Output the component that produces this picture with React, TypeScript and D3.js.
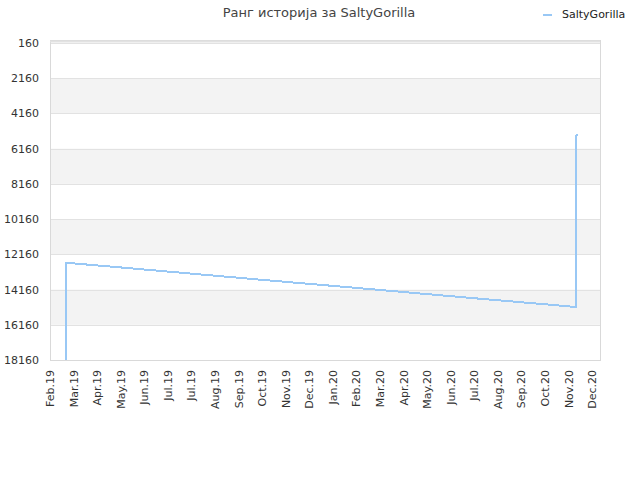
import React from "react";
import * as d3 from "d3";

const title = "Ранг историја за SaltyGorilla";
const seriesName = "SaltyGorilla";

const dates = [
  "2019-02-21", "2019-02-22", "2019-05-01", "2019-08-01", "2019-11-01",
  "2020-02-01", "2020-05-01", "2020-08-01", "2020-11-01", "2020-12-01",
  "2020-12-02", "2020-12-04",
];
const ranks = [
  18160, 12640, 12900, 13260, 13620,
  13970, 14320, 14680, 15030, 15150,
  5440, 5340,
];
const yTicks = [160, 2160, 4160, 6160, 8160, 10160, 12160, 14160, 16160, 18160];
const tickStart = "2019-02-01";
const tickCount = 24;
const tickStepDays = 30;

const W = 640, H = 480;
const L = 50, R = 600, T = 43, B = 360;

export default function App() {
  const parse = d3.utcParse("%Y-%m-%d");
  const x = d3.scaleUtc()
    .domain([parse("2019-02-01")!, parse("2021-01-01")!])
    .range([L, R]);
  const y = d3.scaleLinear().domain([160, 18160]).range([T, B]);
  const fmt = d3.utcFormat("%b.%y");
  const t0 = parse(tickStart)!;
  const xTicks = d3.range(tickCount).map((i) => d3.utcDay.offset(t0, i * tickStepDays));
  const pts = dates.map((d, i) => [parse(d)!, ranks[i]] as [Date, number]);
  const line = d3.line<[Date, number]>().x((d) => x(d[0])).y((d) => y(d[1]));
  const color = "#99c8f5";
  const font = "'DejaVu Sans', sans-serif";

  const bands: [number, number][] = [];
  for (let i = 1; i + 1 < yTicks.length; i += 2) bands.push([yTicks[i], yTicks[i + 1]]);

  return (
    <svg width={W} height={H} style={{ position: "absolute", left: 0, top: 0, background: "#fff" }} fontFamily={font}>
      <rect x={0} y={0} width={W} height={H} fill="#fff" />
      {bands.map(([a, b], i) => (
        <rect key={i} x={L} y={y(a)} width={R - L} height={y(b) - y(a)} fill="#f3f3f3" />
      ))}
      {yTicks.map((v) => (
        <line key={v} x1={L} x2={R} y1={Math.round(y(v)) + 0.5} y2={Math.round(y(v)) + 0.5} stroke="#e2e2e2" />
      ))}
      <rect x={L + 0.5} y={40.5} width={R - L} height={B - 40} fill="none" stroke="#d9d9d9" />
      <line x1={L} x2={R} y1={41.5} y2={41.5} stroke="#e2e2e2" strokeWidth={2} />
      {yTicks.map((v) => (
        <text key={v} x={39} y={y(v) + 4} textAnchor="end" fontSize={11} fill="#333">{v}</text>
      ))}
      {xTicks.map((d, i) => (
        <text key={i} transform={`translate(${x(d) + 4},370) rotate(-90)`} textAnchor="end" fontSize={11} fill="#333">{fmt(d)}</text>
      ))}
      <path d={line(pts)!} fill="none" stroke={color} strokeWidth={2} shapeRendering="crispEdges" />
      <text x={319} y={17} textAnchor="middle" fontSize={13} fill="#444">{title}</text>
      <line x1={543} x2={552} y1={15} y2={15} stroke={color} strokeWidth={2} />
      <text x={562} y={18} fontSize={11} fill="#222">{seriesName}</text>
    </svg>
  );
}
